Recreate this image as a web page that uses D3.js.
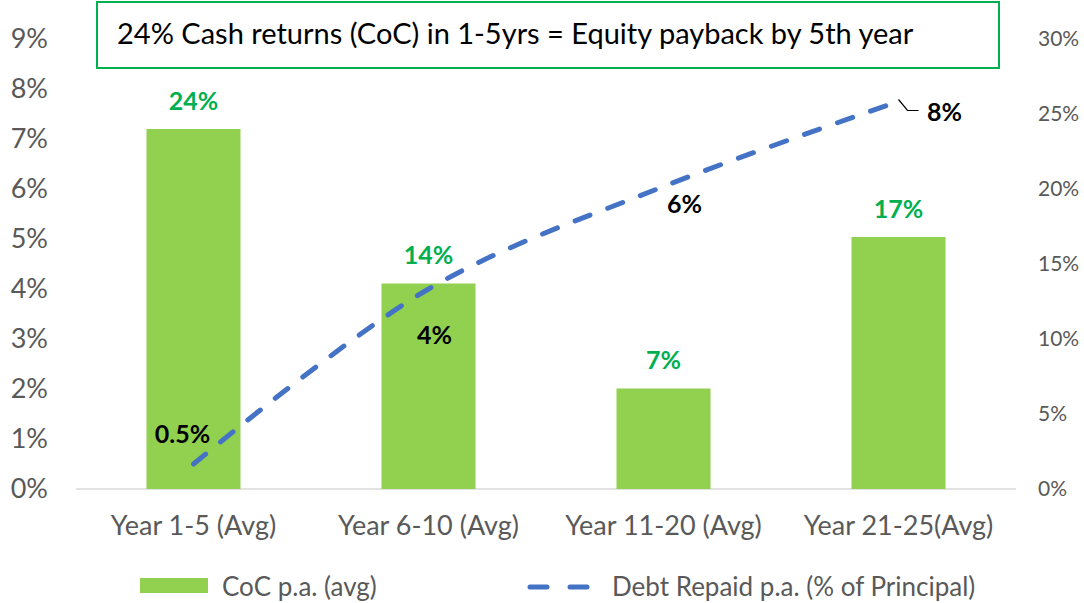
<!DOCTYPE html>
<html>
<head>
<meta charset="utf-8">
<script src="https://cdn.jsdelivr.net/npm/d3@7"></script>
<style>
  body { margin: 0; background: #fff; }
  svg { font-family: Lato, "Open Sans", sans-serif; }
</style>
</head>
<body>
<svg id="chart" width="1084" height="603"></svg>
<script>
// data
const categories = ["Year 1-5 (Avg)", "Year 6-10 (Avg)", "Year 11-20 (Avg)", "Year 21-25(Avg)"];
const cocValues = [24.0, 13.7, 6.7, 16.8];           // right axis, %
const cocLabels = ["24%", "14%", "7%", "17%"];
const debtValues = [0.5, 4.0, 6.05, 7.75];           // left axis, %
const debtLabels = ["0.5%", "4%", "6%", "8%"];
const leftTicks = [0, 1, 2, 3, 4, 5, 6, 7, 8, 9];
const rightTicks = [0, 5, 10, 15, 20, 25, 30];
const titleText = "24% Cash returns (CoC) in 1-5yrs = Equity payback by 5th year";
const legendNames = ["CoC p.a. (avg)", "Debt Repaid p.a. (% of Principal)"];

const svg = d3.select("#chart");
const gray = "#595959";
const barColor = "#92D050";
const lineColor = "#4472C4";
const labelGreen = "#00B050";

const margin = {left: 76, right: 1016, top: 39, bottom: 489};

const x = d3.scaleBand()
    .domain(categories)
    .range([margin.left, margin.right])
    .paddingInner(0.6)
    .paddingOuter(0.3);

const yLeft = d3.scaleLinear().domain([0, 9]).range([margin.bottom, margin.top]);
const yRight = d3.scaleLinear().domain([0, 30]).range([margin.bottom, margin.top]);

// axes
const leftAxis = svg.append("g")
    .attr("transform", `translate(${margin.left},0)`)
    .call(d3.axisLeft(yLeft).tickValues(leftTicks).tickSize(0).tickPadding(0).tickFormat(d => d + "%"));
leftAxis.select(".domain").remove();
leftAxis.selectAll("text")
    .attr("x", -28)
    .attr("fill", gray)
    .attr("font-size", 27)
    .attr("font-family", "Lato, sans-serif");

const rightAxis = svg.append("g")
    .attr("transform", `translate(${margin.right},0)`)
    .call(d3.axisRight(yRight).tickValues(rightTicks).tickSize(0).tickPadding(0).tickFormat(d => d + "%"));
rightAxis.select(".domain").remove();
rightAxis.selectAll("text")
    .attr("x", 22)
    .attr("fill", gray)
    .attr("font-size", 21)
    .attr("font-family", "Lato, sans-serif");

// baseline
svg.append("line")
    .attr("x1", margin.left).attr("x2", margin.right)
    .attr("y1", margin.bottom).attr("y2", margin.bottom)
    .attr("stroke", "#d9d9d9").attr("stroke-width", 1.5);

// category labels
const bottomAxis = svg.append("g")
    .attr("transform", `translate(0,${margin.bottom})`)
    .call(d3.axisBottom(x).tickSize(0).tickPadding(0));
bottomAxis.select(".domain").remove();
bottomAxis.selectAll("text")
    .attr("y", 37)
    .attr("dy", "0.35em")
    .attr("fill", gray)
    .attr("font-size", 27)
    .attr("font-family", "Lato, sans-serif");

// bars
svg.selectAll(".bar")
    .data(categories)
    .join("rect")
    .attr("class", "bar")
    .attr("x", d => x(d))
    .attr("width", x.bandwidth())
    .attr("y", (d, i) => yRight(cocValues[i]))
    .attr("height", (d, i) => yRight(0) - yRight(cocValues[i]))
    .attr("fill", barColor);

svg.selectAll(".barlabel")
    .data(categories)
    .join("text")
    .attr("class", "barlabel")
    .attr("x", d => x(d) + x.bandwidth() / 2)
    .attr("y", (d, i) => yRight(cocValues[i]) - 28)
    .attr("dy", "0.35em")
    .attr("text-anchor", "middle")
    .attr("fill", labelGreen)
    .attr("font-weight", "bold")
    .attr("font-size", 25)
    .text((d, i) => cocLabels[i]);

// debt line
const cx = d => x(d) + x.bandwidth() / 2;
const line = d3.line()
    .x((d, i) => cx(categories[i]))
    .y(d => yLeft(d))
    .curve(d3.curveCatmullRom.alpha(0.5));

svg.append("path")
    .datum(debtValues)
    .attr("d", line)
    .attr("fill", "none")
    .attr("stroke", lineColor)
    .attr("stroke-width", 5)
    .attr("stroke-linecap", "round")
    .attr("stroke-dasharray", "16 19");

// debt labels: offsets relative to each point
const debtOffsets = [[-11, -30], [6, 46], [21, 18], [46, 11]];
svg.selectAll(".debtlabel")
    .data(debtValues)
    .join("text")
    .attr("class", "debtlabel")
    .attr("x", (d, i) => cx(categories[i]) + debtOffsets[i][0])
    .attr("y", (d, i) => yLeft(d) + debtOffsets[i][1])
    .attr("dy", "0.35em")
    .attr("text-anchor", "middle")
    .attr("fill", "#000")
    .attr("font-weight", "bold")
    .attr("font-size", 25)
    .text((d, i) => debtLabels[i]);

// leader line for last label
const lastX = cx(categories[3]), lastY = yLeft(debtValues[3]);
svg.append("path")
    .attr("d", `M${lastX},${lastY - 2}L${lastX + 9},${lastY + 9}H${lastX + 20}`)
    .attr("fill", "none")
    .attr("stroke", "#000")
    .attr("stroke-width", 1.2);

// title box
svg.append("rect")
    .attr("x", 97).attr("y", 2)
    .attr("width", 902).attr("height", 66)
    .attr("fill", "#fff")
    .attr("stroke", labelGreen)
    .attr("stroke-width", 2);
svg.append("text")
    .attr("x", 117).attr("y", 34)
    .attr("dy", "0.35em")
    .attr("fill", "#000")
    .attr("font-size", 29)
    .text(titleText);

// legend
const legend = svg.append("g");
legend.append("rect")
    .attr("x", 140).attr("y", 578)
    .attr("width", 68).attr("height", 15)
    .attr("fill", barColor);
legend.append("text")
    .attr("x", 222).attr("y", 587)
    .attr("dy", "0.35em")
    .attr("fill", gray)
    .attr("font-size", 26)
    .text(legendNames[0]);
legend.append("line")
    .attr("x1", 530).attr("x2", 590)
    .attr("y1", 587).attr("y2", 587)
    .attr("stroke", lineColor)
    .attr("stroke-width", 5)
    .attr("stroke-linecap", "round")
    .attr("stroke-dasharray", "17 23");
legend.append("text")
    .attr("x", 612).attr("y", 587)
    .attr("dy", "0.35em")
    .attr("fill", gray)
    .attr("font-size", 26)
    .text(legendNames[1]);
</script>
</body>
</html>
